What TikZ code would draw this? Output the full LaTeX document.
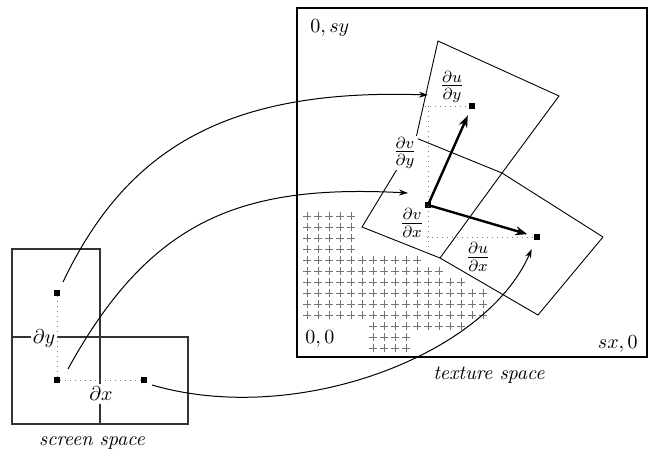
\documentclass[tikz,border=0pt]{standalone}
\usepackage{tikz}
\usetikzlibrary{arrows.meta,calc,positioning}

\begin{document}
\begin{tikzpicture}[
  x=0.5pt, y=0.5pt,
  mysample/.style={fill=black, minimum size=2.6pt, inner sep=0pt},
  mydotted/.style={dotted, gray, line width=0.5pt},
  myscreen/.style={line width=0.6pt, black!80},
  myedge/.style={line width=0.45pt},
  mycurve/.style={line width=0.5pt, -{Stealth[length=4.5pt,width=3pt]}},
  myvec/.style={line width=1.2pt, -{Stealth[length=6pt,width=4.5pt]}, shorten >=3.5pt},
  mylabel/.style={fill=white, inner sep=1pt},
  myfrac/.style={fill=white, inner sep=0.5pt, font=\fontsize{11.5}{13}\selectfont},
  mycorner/.style={inner sep=0pt},
  mytexel/.style={black!55, line width=0.3pt}
]
\useasboundingbox (0,0) rectangle (666,468);

% texels not covered by the footprint
\foreach \r/\a/\b in {0/0/4,1/0/4,2/0/4,3/0/4,4/0/10,5/0/12,6/0/14,
                      7/0/16,8/0/16,9/0/16,10/6/14,11/6/9,12/6/9}
  \foreach \c in {\a,...,\b}
    \draw[mytexel] (303+11*\c, 252-11*\r) -- ++(8,0)
                   (307+11*\c, 248-11*\r) -- ++(0,8);

% screen space
\draw[myscreen] (12,44) rectangle (100,219);
\draw[myscreen] (12,44) rectangle (188,131);
\node[mysample] (sup) at (57,175) {};
\node[mysample] (sc) at (57,88) {};
\node[mysample] (sr) at (144,88) {};
\draw[mydotted] (sup) -- (sc) -- (sr);
\node[mylabel] (ldy) at (44,130) {$\partial y$};
\node[mylabel, inner sep=1.5pt] (ldx) at (101,74) {$\partial x$};
\node (lscreen) at (92,25) {\textit{screen space}};

% texture space
\draw[line width=1.1pt] (297,111) rectangle (647,460);
\node[mycorner, anchor=base west] (lsy) at (310,436) {$0,sy$};
\node[mycorner, anchor=base west] (lzero) at (305,125) {$0,0$};
\node[mycorner, anchor=base east] (lsx) at (638,120) {$sx,0$};
\node (ltexture) at (489,93) {\textit{texture space}};

% footprint
\coordinate (abl) at (362,241);
\coordinate (aml) at (416,330);
\coordinate (atl) at (438,427);
\coordinate (atr) at (559,372);
\coordinate (amr) at (502,295);
\coordinate (abr) at (440,210);
\coordinate (btr) at (603,231);
\coordinate (bbr) at (538,153);
\draw[myedge] (abl) -- (aml) -- (atl) -- (atr) -- (amr) -- (abr) -- cycle;
\draw[myedge] (aml) -- (amr) -- (btr) -- (bbr) -- (abr);

\node[mysample] (tc) at (428,263) {};
\node[mysample] (tu) at (472,362) {};
\node[mysample] (tr) at (537,231) {};
\coordinate (tcu) at (tc |- tu);
\coordinate (tcr) at (tc |- tr);
\draw[mydotted] ([xshift=-1.5pt]tcu) -- (tu);
\draw[mydotted] (tcu) -- ([yshift=-5.5pt]tcr);
\draw[mydotted] ([xshift=-3pt]tcr) -- (tr);
\draw[myvec] (tc) -- (tu);
\draw[myvec] (tc) -- (tr);

\node[myfrac] (ldudy) at (452,381) {$\frac{\partial u}{\partial y}$};
\node[myfrac] (ldvdy) at (405,315) {$\frac{\partial v}{\partial y}$};
\node[myfrac] (ldvdx) at (412,245) {$\frac{\partial v}{\partial x}$};
\node[myfrac] (ldudx) at (478,211) {$\frac{\partial u}{\partial x}$};

% mapping
\coordinate (e1) at (428,373);
\coordinate (e2) at (408,275);
\draw[mycurve] ($(sup)+(6,11)$) .. controls (126,318) and (225,380) .. (e1);
\draw[mycurve] ($(sc)+(11,11)$) .. controls (150,248) and (240,284) .. (e2);
\draw[mycurve, shorten >=5pt] ($(sr)+(8,-5)$) .. controls (296,41) and (485,112) .. (tr);

\end{tikzpicture}
\end{document}
